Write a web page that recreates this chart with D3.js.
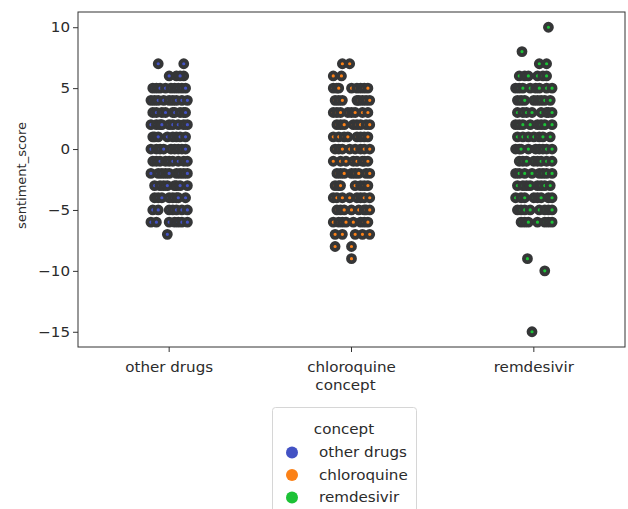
<!DOCTYPE html>
<html>
<head>
<meta charset="utf-8">
<script src="https://cdn.jsdelivr.net/npm/d3@7"></script>
<style>
  body { margin: 0; background: #fff; }
  text { font-family: "DejaVu Sans", sans-serif; fill: #2b2b2b; }
</style>
</head>
<body>
<div id="chart"></div>
<script>
// Categories and colours
const concepts = ["other drugs", "chloroquine", "remdesivir"];
const colors = ["#4352c4", "#fb8117", "#1cc236"];
const yTicks = [10, 5, 0, -5, -10, -15];

// Each row: [sentiment_score, jitter offsets (fraction of category width)]
const otherDrugs = [
  [7, [-0.06, 0.08]],
  [6, [0.0, 0.04, 0.08, 0.06]],
  [5, [-0.09, -0.07, -0.05, -0.02, 0.01, 0.03, 0.05, 0.07, 0.09]],
  [4, [-0.1, -0.08, -0.06, -0.03, 0.0, 0.02, 0.04, 0.07, 0.1]],
  [3, [-0.09, -0.07, -0.04, -0.02, 0.02, 0.03, 0.06, 0.08, 0.09]],
  [2, [-0.1, -0.07, -0.05, -0.04, 0.0, 0.02, 0.05, 0.08, 0.1]],
  [1, [-0.09, -0.08, -0.06, -0.01, 0.02, 0.04, 0.06, 0.09]],
  [0, [-0.1, -0.07, -0.05, -0.03, 0.01, 0.03, 0.05, 0.07, 0.09]],
  [-1, [-0.09, -0.07, -0.05, -0.02, 0.0, 0.02, 0.05, 0.08, 0.1]],
  [-2, [-0.1, -0.06, -0.04, -0.02, 0.0, 0.04, 0.06, 0.08, 0.1]],
  [-3, [-0.08, -0.05, -0.03, -0.01, 0.03, 0.04, 0.06, 0.1]],
  [-4, [-0.08, -0.06, -0.04, 0.0, 0.02, 0.04, 0.05, 0.09]],
  [-5, [-0.09, -0.06, 0.0, 0.02, 0.04, 0.07, 0.1]],
  [-6, [-0.1, -0.07, 0.0, 0.03, 0.05, 0.07, 0.1]],
  [-7, [-0.01]]
];
const chloroquine = [
  [7, [-0.05, -0.01]],
  [6, [-0.1, -0.055]],
  [5, [-0.1, -0.08, -0.07, 0.0, 0.03, 0.05, 0.07, 0.09]],
  [4, [-0.09, -0.07, -0.05, 0.03, 0.04, 0.06, 0.08, 0.1]],
  [3, [-0.1, -0.08, -0.06, -0.02, 0.0, 0.02, 0.06, 0.09]],
  [2, [-0.08, -0.06, -0.04, 0.01, 0.03, 0.05, 0.08, 0.1]],
  [1, [-0.1, -0.07, -0.04, -0.02, 0.03, 0.05, 0.07, 0.09]],
  [0, [-0.09, -0.07, -0.05, -0.01, 0.02, 0.05, 0.07, 0.1]],
  [-1, [-0.1, -0.06, -0.03, 0.01, 0.03, 0.06, 0.07, 0.09]],
  [-2, [-0.08, -0.06, -0.04, 0.0, 0.02, 0.04, 0.08, 0.1]],
  [-3, [-0.09, -0.07, -0.06, 0.02, 0.05, 0.07, 0.09]],
  [-4, [-0.1, -0.08, -0.05, -0.01, 0.03, 0.05, 0.07, 0.1]],
  [-5, [-0.08, -0.06, -0.04, 0.0, 0.04, 0.07, 0.08, 0.1]],
  [-6, [-0.1, -0.07, -0.05, -0.03, 0.01, 0.05, 0.07, 0.09]],
  [-7, [-0.09, -0.05, 0.02, 0.06, 0.1]],
  [-8, [-0.09, 0.0]],
  [-9, [0.0]]
];
const remdesivir = [
  [10, [0.08]],
  [8, [-0.065]],
  [7, [0.03, 0.07]],
  [6, [-0.08, -0.05, -0.03, 0.02, 0.05, 0.07]],
  [5, [-0.1, -0.08, -0.06, -0.02, 0.01, 0.03, 0.07, 0.1]],
  [4, [-0.09, -0.07, -0.05, 0.0, 0.02, 0.04, 0.06, 0.09]],
  [3, [-0.09, -0.06, -0.04, -0.01, 0.04, 0.07, 0.08, 0.1]],
  [2, [-0.1, -0.08, -0.06, -0.02, 0.02, 0.04, 0.06, 0.1]],
  [1, [-0.09, -0.06, -0.03, 0.0, 0.03, 0.05, 0.09]],
  [0, [-0.1, -0.08, -0.07, -0.03, 0.01, 0.03, 0.05, 0.07, 0.1]],
  [-1, [-0.08, -0.06, -0.04, 0.0, 0.02, 0.04, 0.07, 0.1]],
  [-2, [-0.1, -0.08, -0.05, -0.01, 0.03, 0.05, 0.07, 0.1]],
  [-3, [-0.09, -0.06, -0.04, -0.02, 0.02, 0.04, 0.06, 0.09]],
  [-4, [-0.1, -0.07, -0.05, 0.0, 0.02, 0.04, 0.08, 0.1]],
  [-5, [-0.09, -0.07, -0.05, -0.02, 0.03, 0.06, 0.08, 0.1]],
  [-6, [-0.07, -0.05, -0.03, 0.02, 0.06, 0.08, 0.1]],
  [-9, [-0.035]],
  [-10, [0.06]],
  [-15, [-0.01]]
];
const seriesRows = [otherDrugs, chloroquine, remdesivir];

// Layout
const width = 628, height = 509;
const plot = { left: 78, right: 625, top: 12, bottom: 347 };
const hs = 1.12; // horizontal text stretch of the original picture
const fontSize = 13.5;

const x = d3.scaleBand().domain(concepts).range([plot.left, plot.right]);
const y = d3.scaleLinear().domain([-16.25, 11.25]).range([plot.bottom, plot.top]);

const svg = d3.select("#chart").append("svg")
  .attr("width", width)
  .attr("height", height);

// flatten points
let points = [];
seriesRows.forEach((rows, ci) => {
  rows.forEach(([score, offs]) => {
    offs.forEach(o => points.push({ concept: concepts[ci], ci: ci, score: score, off: o }));
  });
});

svg.append("g").selectAll("circle")
  .data(points)
  .enter()
  .append("circle")
  .attr("cx", d => x(d.concept) + x.bandwidth() / 2 + d.off * x.bandwidth())
  .attr("cy", d => y(d.score))
  .attr("r", 3.5)
  .attr("fill", d => colors[d.ci])
  .attr("stroke", "#353637")
  .attr("stroke-width", 3.8);

// Frame
svg.append("rect")
  .attr("x", plot.left)
  .attr("y", plot.top)
  .attr("width", plot.right - plot.left)
  .attr("height", plot.bottom - plot.top)
  .attr("fill", "none")
  .attr("stroke", "#333")
  .attr("stroke-width", 1);

// Y axis
const yAxis = svg.append("g")
  .attr("transform", `translate(${plot.left},0)`)
  .call(d3.axisLeft(y).tickValues(yTicks).tickSize(5).tickFormat(d => d < 0 ? "\u2212" + Math.abs(d) : d));
yAxis.select(".domain").remove();
yAxis.selectAll(".tick line").attr("stroke", "#333");
yAxis.selectAll(".tick text")
  .attr("x", -8 / hs)
  .attr("dy", "0.35em")
  .attr("transform", `scale(${hs},1)`)
  .style("font-size", fontSize + "px")
  .style("font-family", "DejaVu Sans");

// X axis
const xAxis = svg.append("g")
  .attr("transform", `translate(0,${plot.bottom})`)
  .call(d3.axisBottom(x).tickSize(5));
xAxis.select(".domain").remove();
xAxis.selectAll(".tick line").attr("stroke", "#333");
xAxis.selectAll(".tick text")
  .attr("y", 25)
  .attr("dy", 0)
  .attr("transform", `scale(${hs},1)`)
  .style("font-size", fontSize + "px")
  .style("font-family", "DejaVu Sans");

// Axis labels
svg.append("text")
  .attr("transform", `translate(${(plot.left + plot.right) / 2 - 6},390) scale(${hs},1)`)
  .attr("text-anchor", "middle")
  .style("font-size", fontSize + "px")
  .text("concept");

svg.append("text")
  .attr("transform", `translate(26,${(plot.top + plot.bottom) / 2 - 4}) rotate(-90)`)
  .attr("text-anchor", "middle")
  .style("font-size", "13px")
  .text("sentiment_score");

// Legend
const legend = svg.append("g");
legend.append("rect")
  .attr("x", 272.5)
  .attr("y", 407.5)
  .attr("width", 144)
  .attr("height", 120)
  .attr("rx", 3)
  .attr("fill", "#fff")
  .attr("stroke", "#d6d6d6");
legend.append("text")
  .attr("transform", `translate(344,434) scale(${hs},1)`)
  .attr("text-anchor", "middle")
  .style("font-size", fontSize + "px")
  .text("concept");
const entries = legend.selectAll("g.entry")
  .data(concepts)
  .enter()
  .append("g")
  .attr("class", "entry")
  .attr("transform", (d, i) => `translate(0,${457 + i * 22.5})`);
entries.append("circle")
  .attr("cx", 292)
  .attr("cy", -4.5)
  .attr("r", 6)
  .attr("fill", (d, i) => colors[i]);
entries.append("text")
  .attr("transform", `translate(319,0) scale(${hs},1)`)
  .style("font-size", fontSize + "px")
  .text(d => d);
</script>
</body>
</html>
